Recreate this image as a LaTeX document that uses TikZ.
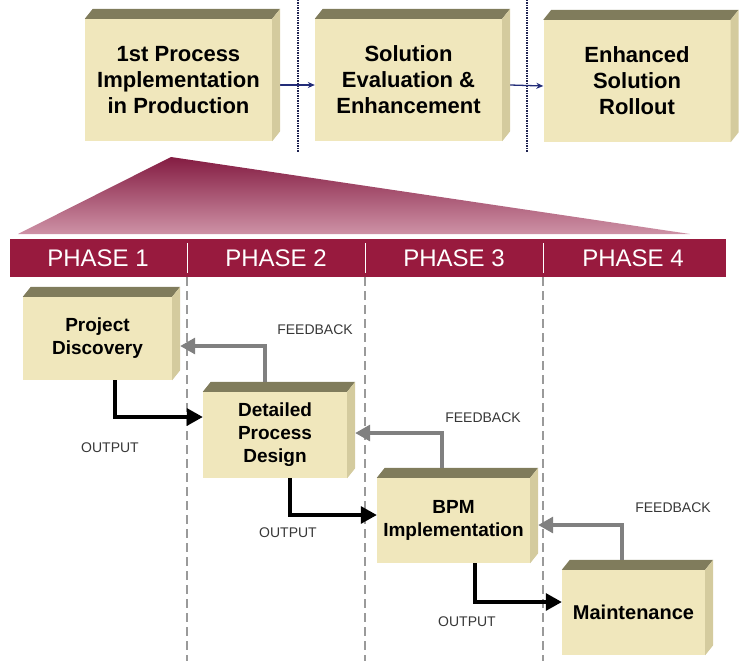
\documentclass[tikz,border=0pt]{standalone}
\usepackage{fontspec}
\setmainfont{Liberation Sans}
\usetikzlibrary{arrows.meta}

\definecolor{boxfront}{RGB}{240,231,188}
\definecolor{boxtopc}{RGB}{128,124,92}
\definecolor{boxsidec}{RGB}{212,203,158}
\definecolor{maroon}{RGB}{152,26,62}
\definecolor{wedgetop}{RGB}{132,28,66}
\definecolor{wedgebot}{RGB}{206,146,166}
\definecolor{navyline}{RGB}{30,34,80}
\definecolor{blueline}{RGB}{34,44,120}
\definecolor{fbgray}{RGB}{128,128,128}
\definecolor{labgray}{RGB}{55,55,55}

\begin{document}
\begin{tikzpicture}[x=1pt, y=-1pt,
		bigbox/.style={fill=boxfront, minimum width=187pt, minimum height=122pt,
			align=center, font=\fontsize{22}{26}\selectfont\bfseries, inner sep=0pt},
		stagebox/.style={fill=boxfront, minimum width=147pt, minimum height=85pt,
			align=center, font=\fontsize{19}{23}\selectfont\bfseries, inner sep=0pt},
		outarrow/.style={line width=3.2pt, -{Triangle[length=16pt, width=17pt]}},
		fbarrow/.style={fbgray, line width=3.2pt, -{Triangle[length=15pt, width=16pt]}},
		flowlabel/.style={labgray, font=\fontsize{14}{16}\selectfont},
		phaselabel/.style={white, font=\fontsize{24}{26}\selectfont}]
			\def\dx{8};
			\def\dy{10};

			\useasboundingbox (0,0) rectangle (744,661);

			% dividers of the top row
			\begin{scope}[navyline, line width=2.2pt, dash pattern=on 1.5pt off 1pt]
				\draw (298,0) -- (298,152);
				\draw (527,0) -- (527,152);
			\end{scope}

			% top row
			\node[bigbox] (top1) at (178.5,80) {1st Process\\Implementation\\in Production};
			\node[bigbox] (top2) at (408.5,80) {Solution\\Evaluation \&\\Enhancement};
			\node[bigbox] (top3) at (637,81) {Enhanced\\Solution\\Rollout};

			\draw[blueline, line width=1.3pt, -{Stealth[length=7pt, width=6pt]}]
				([xshift=\dx pt, yshift=-5pt]top1.east) -- ([yshift=-5pt]top2.west);
			\draw[blueline, line width=1.3pt, -{Stealth[length=7pt, width=6pt]}]
				([xshift=\dx pt, yshift=-5pt]top2.east) -- ([yshift=-5pt]top3.west);

			% wedge and phase band
			\shade[top color=wedgetop, bottom color=wedgebot]
				(171,157) -- (690,234) -- (18,234) -- cycle;
			\fill[maroon] (10,239) rectangle (726,277);
			\foreach \x/\n in {98/1, 276/2, 454/3, 633/4}
			{
				\node[phaselabel] (phase\n) at (\x,258) {PHASE \n};
			}
			\foreach \x in {187,365,543}
			{
				\draw[white, line width=0.8pt] (\x,243) -- (\x,273);
				\draw[fbgray!80, line width=1.5pt, dash pattern=on 9pt off 5pt] (\x,277) -- (\x,661);
			}

			% stages
			\node[stagebox, minimum width=149pt, minimum height=83pt] (disc) at (97.5,338.5) {Project\\Discovery};
			\node[stagebox, minimum width=144pt, minimum height=86pt] (design) at (275,435) {Detailed\\Process\\Design};
			\node[stagebox, minimum width=153pt] (bpm) at (453.5,520.5) {BPM\\Implementation};
			\node[stagebox, minimum width=143pt, font=\fontsize{20}{24}\selectfont\bfseries] (maint) at (633.5,612.5) {Maintenance};

			% bevels
			\foreach \n in {top1,top2,top3,disc,design,bpm,maint}
			{
				\fill[boxtopc] (\n.north west) -- ++(\dx,-\dy)
					-- ([xshift=\dx pt, yshift=\dy pt]\n.north east) -- (\n.north east) -- cycle;
				\fill[boxsidec] (\n.north east) -- ([xshift=\dx pt, yshift=\dy pt]\n.north east)
					-- ([xshift=\dx pt, yshift=\dy pt]\n.south east) -- (\n.south east) -- cycle;
			}

			% outputs
			\draw[outarrow] ([xshift=17.5pt]disc.south) |- ([yshift=18pt]design.west);
			\draw[outarrow] ([xshift=15pt]design.south) |- ([yshift=5.5pt]bpm.west);
			\draw[outarrow] ([xshift=21.5pt]bpm.south) |- ([yshift=10.5pt]maint.west);
			\node[flowlabel] (out1) at (110,448) {OUTPUT};
			\node[flowlabel] (out2) at (288,533) {OUTPUT};
			\node[flowlabel] (out3) at (467,622) {OUTPUT};

			% feedback
			\draw[fbarrow] ([xshift=-10pt, yshift=\dy pt]design.north) |- ([xshift=\dx pt, yshift=-7.5pt]disc.east);
			\draw[fbarrow] ([xshift=-11.5pt, yshift=\dy pt]bpm.north) |- ([xshift=\dx pt, yshift=2pt]design.east);
			\draw[fbarrow] ([xshift=-11.5pt, yshift=\dy pt]maint.north) |- ([xshift=\dx pt, yshift=-4.5pt]bpm.east);
			\node[flowlabel] (fb1) at (315,330) {FEEDBACK};
			\node[flowlabel] (fb2) at (483,418) {FEEDBACK};
			\node[flowlabel] (fb3) at (673,508) {FEEDBACK};
		\end{tikzpicture}
\end{document}
